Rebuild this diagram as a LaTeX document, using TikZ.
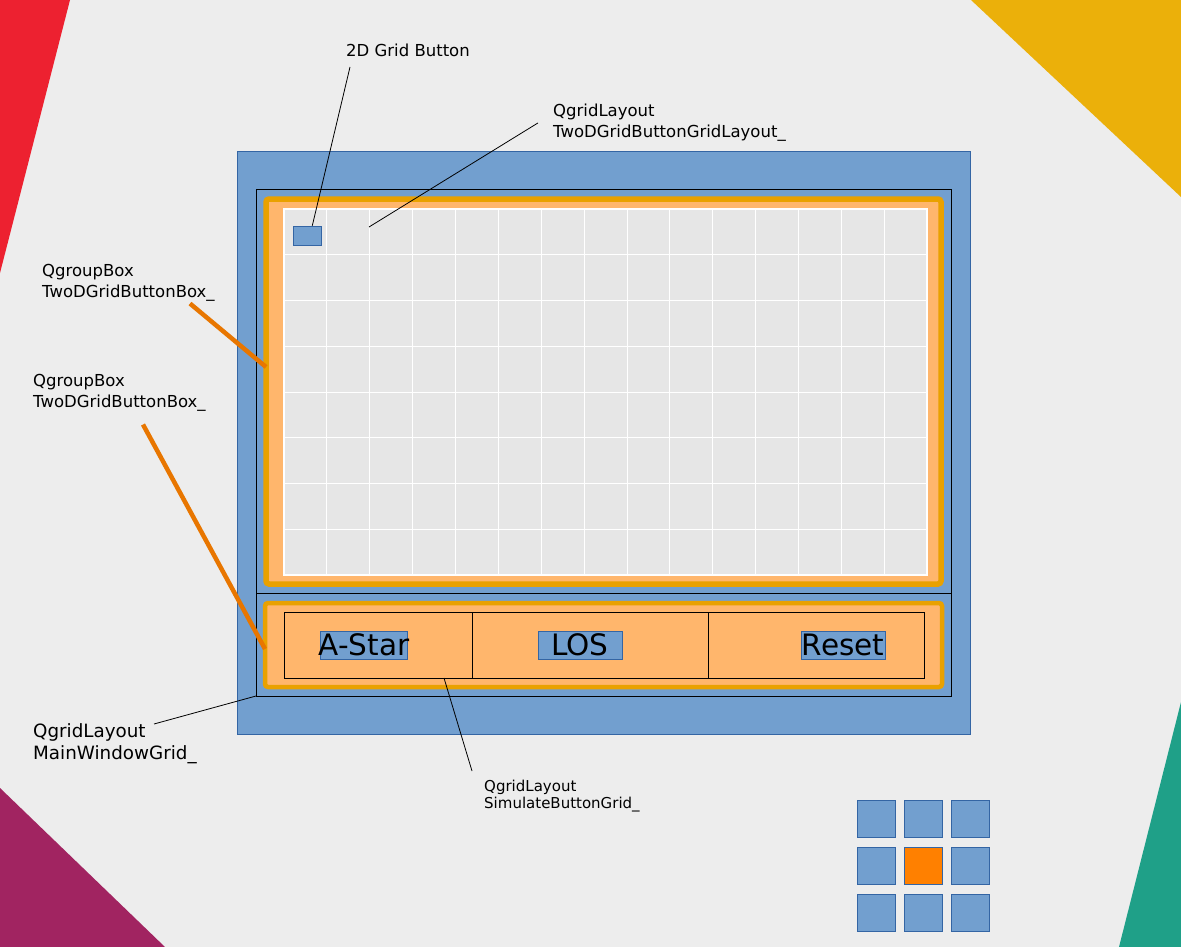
\documentclass[tikz,border=0pt]{standalone}
\usepackage{fontspec}
\setmainfont{DejaVu Sans}
\definecolor{bggray}{RGB}{237,237,237}
\definecolor{cornerred}{RGB}{237,33,48}
\definecolor{corneryellow}{RGB}{235,176,10}
\definecolor{cornerpurple}{RGB}{161,36,97}
\definecolor{cornerteal}{RGB}{31,160,136}
\definecolor{qtblue}{RGB}{114,159,207}
\definecolor{qtblueline}{RGB}{52,101,164}
\definecolor{paleorange}{RGB}{255,182,108}
\definecolor{goldline}{RGB}{233,161,0}
\definecolor{hintorange}{RGB}{232,118,0}
\definecolor{cellgray}{RGB}{230,230,230}
\definecolor{pickorange}{RGB}{255,128,0}
\begin{document}
\begin{tikzpicture}[x=1pt,y=-1pt,
  lbl/.style={inner sep=0pt,anchor=north west,align=left,font=\fontsize{16.5}{21}\selectfont},
  leader/.style={black,line width=0.8pt},
  hint/.style={hintorange,line width=4.5pt},
  bluebox/.style={fill=qtblue,draw=qtblueline,line width=0.8pt},
  simbtn/.style={bluebox,inner xsep=0pt,inner ysep=0pt,minimum width=85pt,
    text height=24pt,text depth=4pt,anchor=base,font=\fontsize{29.5}{30}\selectfont}]
\useasboundingbox (0,0) rectangle (1181,947);
\fill[bggray] (0,0) rectangle (1181,947);
% corners
\fill[cornerred] (0,0) -- (70,0) -- (0,273) -- cycle;
\fill[corneryellow] (971,0) -- (1181,0) -- (1181,197) -- cycle;
\fill[cornerpurple] (0,788) -- (165,947) -- (0,947) -- cycle;
\fill[cornerteal] (1181,702) -- (1181,947) -- (1119,947) -- cycle;

% main window
\draw[bluebox] (237,151) rectangle (970,734);
\draw[line width=1pt] (256,189) rectangle (951,593);
\draw[line width=1pt] (256,593) rectangle (951,696);

% grid box
\draw[fill=paleorange,draw=goldline,line width=5.5pt,rounded corners=3pt] (266,199) rectangle (941,584);
\fill[cellgray] (284,209) rectangle (927,575);
\foreach \i in {1,...,14}
  \draw[white,line width=0.8pt] (284+42.87*\i,209) -- ++(0,366);
\foreach \j in {1,...,7}
  \draw[white,line width=0.8pt] (284,209+45.75*\j) -- ++(643,0);
\draw[white,line width=1.2pt] (284,209) rectangle (927,575);
\node[bluebox,inner sep=0pt,minimum width=28.5pt,minimum height=19pt] (gridbtn) at (307.3,235.6) {};

% button box
\draw[fill=paleorange,draw=goldline,line width=4.5pt,rounded corners=3pt] (265,603) rectangle (942,687);
\draw[line width=0.8pt] (284,612) rectangle (924,678);
\draw[line width=0.8pt] (472,612) -- (472,678);
\draw[line width=0.8pt] (708,612) -- (708,678);
\node[simbtn,inner xsep=-2pt] (astar) at (364,655) {A-Star};
\node[simbtn,minimum width=84pt] (los) at (580,655) {LOS};
\node[simbtn,minimum width=84pt] (reset) at (843,655) {Reset};

% labels
\node[lbl,anchor=base west] (lblBtn) at (346,57) {2D Grid Button};
\node[lbl] (lblGL) at (553,104) {QgridLayout\\TwoDGridButtonGridLayout\_};
\node[lbl] (lblBox1) at (42,264) {QgroupBox\\TwoDGridButtonBox\_};
\node[lbl] (lblBox2) at (33,374) {QgroupBox\\TwoDGridButtonBox\_};
\node[lbl,font=\fontsize{18.3}{22}\selectfont] (lblMain) at (33,723) {QgridLayout\\MainWindowGrid\_};
\node[lbl,font=\fontsize{15}{16.5}\selectfont] (lblSim) at (484,780) {QgridLayout\\SimulateButtonGrid\_};

\coordinate (glTip) at (369,227);
\coordinate (box1Tip) at (266,367);
\coordinate (box2Tip) at (265,649);
\coordinate (mainTip) at (256,696);
\coordinate (simTip) at (444,678);

\draw[leader] ([shift={(4,10)}]lblBtn.base west) -- ([xshift=5pt]gridbtn.north);
\draw[leader] ([xshift=-15pt]lblGL.west) -- (glTip);
\draw[hint] ([shift={(148,2)}]lblBox1.south west) -- (box1Tip);
\draw[hint] ([shift={(110,13)}]lblBox2.south west) -- (box2Tip);
\draw[leader] ([shift={(121,1)}]lblMain.north west) -- (mainTip);
\draw[leader] ([shift={(-12,-9)}]lblSim.north west) -- (simTip);

% selection icon
\foreach \c in {0,1,2}
  \foreach \r in {0,1,2}
    \draw[bluebox] (857+47*\c,800+47*\r) rectangle ++(38,37);
\draw[bluebox,fill=pickorange] (904,847) rectangle ++(38,37);
\end{tikzpicture}
\end{document}
